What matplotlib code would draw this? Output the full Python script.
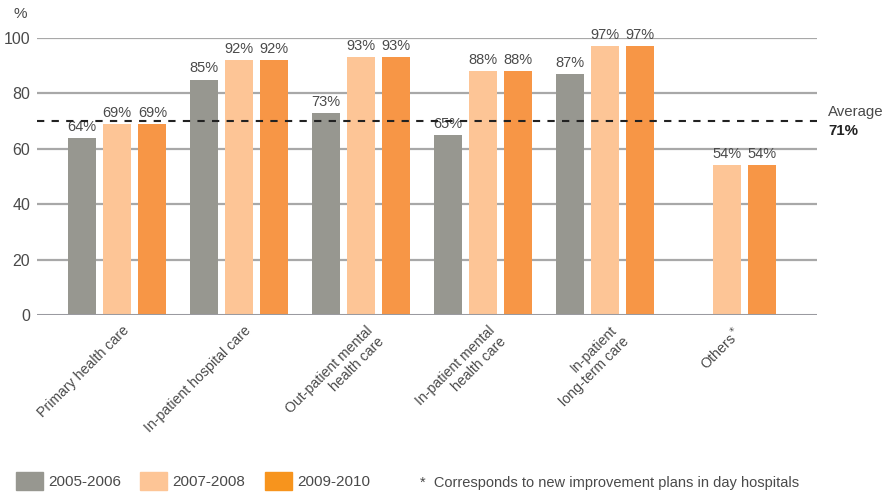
import numpy as np
import matplotlib.pyplot as plt
from matplotlib.patches import Patch

plt.rcParams['font.family'] = ['Liberation Sans', 'DejaVu Sans']

categories = ['Primary health care', 'In-patient hospital care',
              'Out-patient mental\nhealth care', 'In-patient mental\nhealth care',
              'In-patient\nlong-term care', 'Others$^*$']
series = ['2005-2006', '2007-2008', '2009-2010']
v0506 = [64, 85, 73, 65, 87, np.nan]
v0708 = [69, 92, 93, 88, 97, 54]
v0910 = [69, 92, 93, 88, 97, 54]
average = 70
average_label = '71%'

colors = ['#979790', '#FDC596', '#F79646']
legend_colors = ['#979790', '#FDC596', '#F7941D']
txt = '#4a4a4a'

fig = plt.figure(figsize=(8.84, 4.93), dpi=100)
ax = fig.add_axes([37/884, 1-315/493, (817-37)/884, (315-38)/493])

x = np.arange(len(categories))
w = 0.23
step = 0.29
for i, vals in enumerate([v0506, v0708, v0910]):
    xs = x + (i - 1) * step
    ax.bar(xs, vals, width=w, color=colors[i], zorder=3)
    for xi, v in zip(xs, vals):
        if not np.isnan(v):
            ax.text(xi, v + 1.5, f'{v:.0f}%', ha='center', va='bottom',
                    fontsize=10.5, color=txt, zorder=4)

ax.set_xlim(-0.656, 5.738)
ax.set_ylim(0, 100)
for y in range(20, 101, 20):
    ax.axhline(y, color='#a8a8a8', lw=1.6, zorder=1)
ax.axhline(0, color='#9a9aa0', lw=2.2, zorder=4)
ax.axhline(average, color='#222222', lw=1.5, ls=(0, (3.5, 3.5)), zorder=5)

for s in ax.spines.values():
    s.set_visible(False)
ax.set_yticks(range(0, 101, 20))
ax.tick_params(axis='y', length=0, pad=5, labelsize=11.5, labelcolor=txt)
ax.set_xticks(x + 0.04)
ax.set_xticklabels(categories, rotation=45, ha='right', rotation_mode='anchor',
                   multialignment='right', fontsize=10.2, color=txt)
ax.tick_params(axis='x', length=0, pad=6)

fig.text(14/884, 1-14/493, '%', fontsize=11, color=txt, va='center')
fig.text(828/884, 1-112/493, 'Average', fontsize=10.8, color=txt, va='center')
fig.text(828/884, 1-131/493, average_label, fontsize=10.8, color='#222222',
         va='center', fontweight='bold')

handles = [Patch(color=c) for c in legend_colors]
fig.legend(handles, series, loc='lower left', bbox_to_anchor=(2/884, -11/493),
           ncol=3, frameon=False, fontsize=11, handlelength=1.77, handleheight=1.5,
           handletextpad=0.35, columnspacing=1.25, labelcolor=txt)
fig.text(420/884, 1-483/493, '*  Corresponds to new improvement plans in day hospitals',
         fontsize=10.5, color=txt, va='center')

fig.savefig('out.png', dpi=100)
